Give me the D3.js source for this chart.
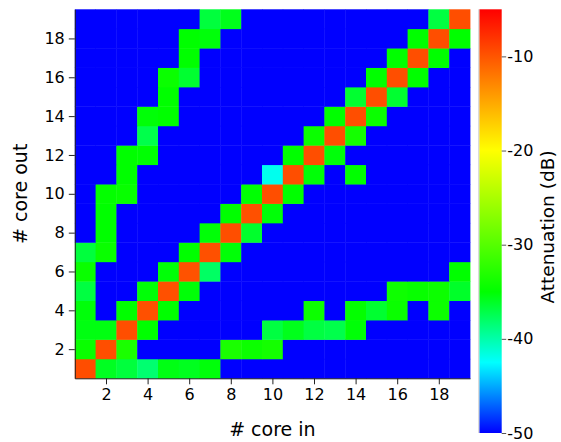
<!DOCTYPE html>
<html>
<head>
<meta charset="utf-8">
<script src="https://cdn.jsdelivr.net/npm/d3@7"></script>
<style>
  html, body { margin: 0; padding: 0; background: #fff; }
  svg { display: block; }
  text { font-family: "DejaVu Sans", sans-serif; fill: #000; }
</style>
</head>
<body>
<svg id="chart" width="561" height="442"></svg>
<script>
// ---- data ----
const coreIn  = [1,2,3,4,5,6,7,8,9,10,11,12,13,14,15,16,17,18,19];
const coreOut = [1,2,3,4,5,6,7,8,9,10,11,12,13,14,15,16,17,18,19];
// attenuation[k] = row for core out = k+1, values over core in 1..19 (dB)
const attenuation = [
  [ -9.5,-36.0,-36.8,-38.3,-35.6,-35.9,-35.3,-50,-50,-50,-50,-50,-50,-50,-50,-50,-50,-50,-50],
  [-34.5, -9.6,-33.5,-50,-50,-50,-50,-33.5,-34.3,-33.8,-50,-50,-50,-50,-50,-50,-50,-50,-50],
  [-35.5,-35.5, -9.6,-35.0,-50,-50,-50,-50,-50,-36.9,-35.8,-36.9,-37.2,-35.2,-50,-50,-50,-50,-50],
  [-35.3,-50,-35.0, -9.7,-35.0,-50,-50,-50,-50,-50,-50,-34.3,-50,-34.8,-36.4,-34.4,-50,-34.3,-50],
  [-36.9,-50,-50,-35.2, -9.7,-35.2,-50,-50,-50,-50,-50,-50,-50,-50,-50,-34.2,-34.6,-34.3,-36.2],
  [-34.5,-50,-50,-50,-35.2, -9.8,-37.9,-50,-50,-50,-50,-50,-50,-50,-50,-50,-50,-50,-35.0],
  [-36.8,-34.5,-50,-50,-50,-35.0, -9.7,-35.2,-50,-50,-50,-50,-50,-50,-50,-50,-50,-50,-50],
  [-50,-35.0,-50,-50,-50,-50,-35.2, -9.6,-36.3,-50,-50,-50,-50,-50,-50,-50,-50,-50,-50],
  [-50,-35.0,-50,-50,-50,-50,-50,-35.0, -9.7,-35.2,-50,-50,-50,-50,-50,-50,-50,-50,-50],
  [-50,-34.8,-34.6,-50,-50,-50,-50,-50,-35.1, -9.6,-35.0,-50,-50,-50,-50,-50,-50,-50,-50],
  [-50,-50,-35.0,-50,-50,-50,-50,-50,-50,-42.0, -9.6,-35.2,-50,-35.0,-50,-50,-50,-50,-50],
  [-50,-50,-35.0,-35.1,-50,-50,-50,-50,-50,-50,-35.0, -9.6,-35.3,-50,-50,-50,-50,-50,-50],
  [-50,-50,-50,-37.2,-50,-50,-50,-50,-50,-50,-50,-34.4, -9.6,-33.8,-50,-50,-50,-50,-50],
  [-50,-50,-50,-35.2,-35.0,-50,-50,-50,-50,-50,-50,-50,-35.0, -9.6,-34.4,-50,-50,-50,-50],
  [-50,-50,-50,-50,-35.0,-50,-50,-50,-50,-50,-50,-50,-50,-36.4, -9.6,-36.4,-50,-50,-50],
  [-50,-50,-50,-50,-34.4,-36.4,-50,-50,-50,-50,-50,-50,-50,-50,-35.0, -9.6,-35.0,-50,-50],
  [-50,-50,-50,-50,-50,-35.0,-50,-50,-50,-50,-50,-50,-50,-50,-50,-35.0, -9.6,-35.0,-50],
  [-50,-50,-50,-50,-50,-35.0,-35.3,-50,-50,-50,-50,-50,-50,-50,-50,-50,-35.0, -9.6,-35.0],
  [-50,-50,-50,-50,-50,-50,-36.8,-35.8,-50,-50,-50,-50,-50,-50,-50,-50,-50,-36.9, -9.6]
];
const xTickValues = [2,4,6,8,10,12,14,16,18];
const yTickValues = [2,4,6,8,10,12,14,16,18];
const cbTickValues = [-10,-20,-30,-40,-50];
const cbDomain = [-50, -5];
const cmapStops  = [-50, -42.5, -35, -20, -5];
const cmapColors = ["#0000ff", "#00ffff", "#00ff00", "#ffff00", "#ff0000"];

// ---- layout ----
const plot = { left: 74.8, right: 470, top: 9.3, bottom: 378.3 };
const cb = { left: 479.3, right: 501.7, top: 9.3, bottom: 433 };

const svg = d3.select("#chart");
const x = d3.scaleLinear().domain([0.5, 19.5]).range([plot.left, plot.right]);
const y = d3.scaleLinear().domain([0.5, 19.5]).range([plot.bottom, plot.top]);
const color = d3.scaleLinear().domain(cmapStops).range(cmapColors).clamp(true);

const cells = [];
attenuation.forEach((row, k) => row.forEach((v, j) => cells.push({ xi: coreIn[j], yi: coreOut[k], v })));

svg.append("g").selectAll("rect").data(cells).join("rect")
  .attr("x", d => x(d.xi - 0.5))
  .attr("y", d => y(d.yi + 0.5))
  .attr("width", d => x(d.xi + 0.5) - x(d.xi - 0.5) + 0.4)
  .attr("height", d => y(d.yi - 0.5) - y(d.yi + 0.5) + 0.4)
  .attr("fill", d => color(d.v));

// axes
const fmt = d => String(d);
const xAxis = svg.append("g").attr("transform", `translate(0,${plot.bottom})`)
  .call(d3.axisBottom(x).tickValues(xTickValues).tickSize(6).tickSizeOuter(0).tickPadding(4).tickFormat(fmt));
const yAxis = svg.append("g").attr("transform", `translate(${plot.left},0)`)
  .call(d3.axisLeft(y).tickValues(yTickValues).tickSize(6).tickSizeOuter(0).tickPadding(4).tickFormat(fmt));
[xAxis, yAxis].forEach(a => {
  a.selectAll("text").style("font-family", "DejaVu Sans").style("font-size", "16px").attr("fill", "#000");
  a.selectAll("line").attr("stroke", "#222");
  a.select(".domain").attr("stroke", "#222");
});

svg.append("text").attr("x", (plot.left + plot.right) / 2).attr("y", 436)
  .attr("text-anchor", "middle").style("font-size", "19px").text("# core in");
svg.append("text").attr("transform", `translate(27,${(plot.top + plot.bottom) / 2}) rotate(-90)`)
  .attr("text-anchor", "middle").style("font-size", "19px").text("# core out");

// colorbar
const cbScale = d3.scaleLinear().domain(cbDomain).range([cb.bottom, cb.top]);
const defs = svg.append("defs");
const grad = defs.append("linearGradient").attr("id", "cbgrad")
  .attr("x1", "0").attr("y1", "1").attr("x2", "0").attr("y2", "0");
cmapStops.forEach((s, i) => {
  grad.append("stop")
    .attr("offset", (s - cbDomain[0]) / (cbDomain[1] - cbDomain[0]))
    .attr("stop-color", cmapColors[i]);
});
svg.append("rect").attr("x", cb.left).attr("y", cb.top)
  .attr("width", cb.right - cb.left).attr("height", cb.bottom - cb.top)
  .attr("fill", "url(#cbgrad)");
svg.append("line").attr("x1", cb.left - 0.5).attr("x2", cb.left - 0.5)
  .attr("y1", cb.top).attr("y2", cb.bottom).attr("stroke", "#ccc").attr("stroke-width", 1);

const cbAxis = svg.append("g").attr("transform", `translate(${cb.right},0)`)
  .call(d3.axisRight(cbScale).tickValues(cbTickValues).tickSize(4.5).tickSizeOuter(0).tickPadding(1)
    .tickFormat(d => "-" + Math.abs(d)));
cbAxis.select(".domain").remove();
cbAxis.selectAll("line").attr("stroke", "#555");
cbAxis.selectAll("text").style("font-family", "DejaVu Sans").style("font-size", "16px").attr("fill", "#000");

svg.append("text").attr("transform", `translate(553.5,227) rotate(-90)`)
  .attr("text-anchor", "middle").style("font-size", "18.5px").text("Attenuation (dB)");
</script>
</body>
</html>
